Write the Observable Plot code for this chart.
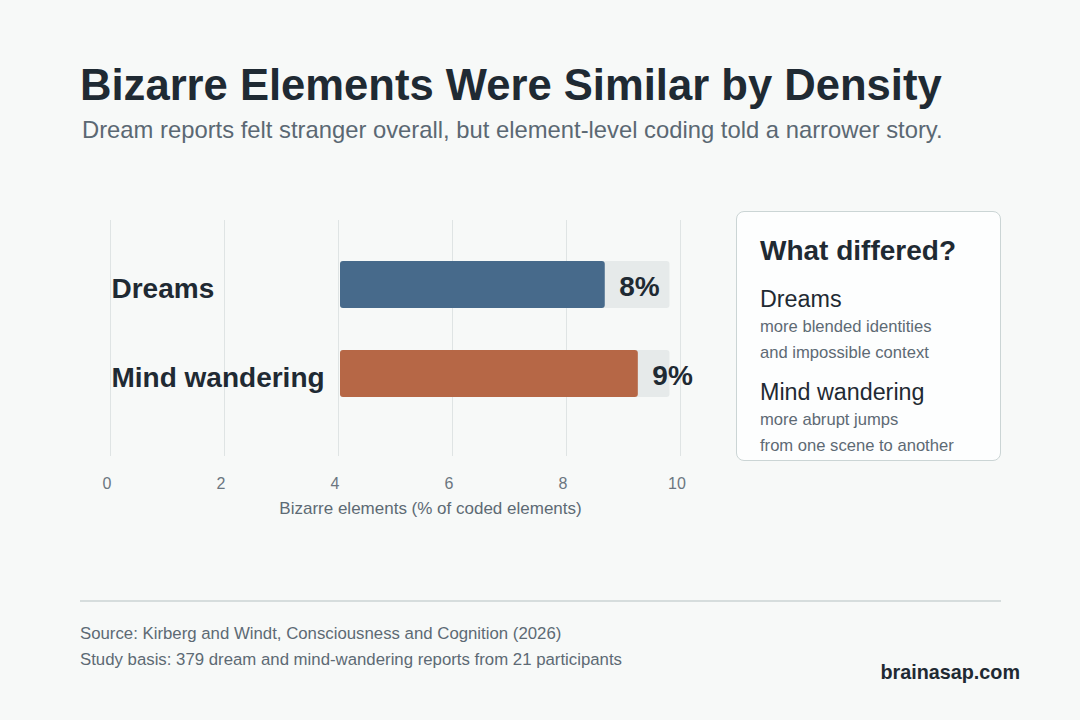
<!DOCTYPE html>
<html>
<head>
<meta charset="utf-8">
<script src="https://cdn.jsdelivr.net/npm/d3@7"></script>
<script src="https://cdn.jsdelivr.net/npm/@observablehq/plot@0.6"></script>
<style>
  html, body { margin: 0; padding: 0; }
  body { width: 1080px; height: 720px; background: #f7f9f8; position: relative; overflow: hidden;
         font-family: "Liberation Sans", Arial, sans-serif; color: #1f2a33; }
  .abs { position: absolute; white-space: nowrap; line-height: 1; }
  #title { left: 80px; top: 63.8px; font-size: 43.6px; font-weight: 700; color: #1f2a33; }
  #subtitle { left: 82px; top: 117.6px; font-size: 23.8px; color: #5b6873; }
  #chart { position: absolute; left: 0; top: 0; }
  #box { position: absolute; left: 736px; top: 210.5px; width: 265px; height: 250px;
         border: 1.5px solid #cbd5d5; border-radius: 8px; background: #fdfefe; box-sizing: border-box; }
  .bt { font-size: 28px; font-weight: 700; color: #1f2a33; }
  .bh { font-size: 23.3px; color: #1f2a33; }
  .bs { font-size: 16.6px; color: #5d6a74; }
  #rule { position: absolute; left: 80px; top: 600px; width: 921px; height: 2px; background: #d6dddd; }
  .foot { font-size: 16.8px; color: #5d6a74; }
  #brand { right: 60px; font-size: 19.8px; font-weight: 700; color: #1f2a33; }
</style>
</head>
<body>
<div id="title" class="abs">Bizarre Elements Were Similar by Density</div>
<div id="subtitle" class="abs">Dream reports felt stranger overall, but element-level coding told a narrower story.</div>
<div id="chart"></div>
<div id="box"></div>
<div id="boxtext"></div>
<div id="rule"></div>
<div class="abs foot" style="left:80px; top:625.8px;">Source: Kirberg and Windt, Consciousness and Cognition (2026)</div>
<div class="abs foot" style="left:80px; top:651.5px;">Study basis: 379 dream and mind-wandering reports from 21 participants</div>
<div id="brand" class="abs" style="top:662.5px;">brainasap.com</div>
<script>
// ---- data ----
const categories = ["Dreams", "Mind wandering"];
const values = [8.68, 9.26];            // bizarre elements, % of coded elements
const valueLabels = ["8%", "9%"];
const barColors = ["#476a8b", "#b66746"];
const barStart = 4;                      // bars drawn from 4 on the axis
const trackEnd = Math.max(...values) * 1.06;
const xTicks = [0, 2, 4, 6, 8, 10];
const xDomain = [0, 10];
const xLabel = "Bizarre elements (% of coded elements)";

const noteTitle = "What differed?";
const noteHeads = ["Dreams", "Mind wandering"];
const noteLines = [["more blended identities", "and impossible context"],
                   ["more abrupt jumps", "from one scene to another"]];

// ---- table ----
const rows = categories.map((c, i) => ({
  cat: c, value: values[i], label: valueLabels[i], color: barColors[i], start: barStart, track: trackEnd
}));

const chart = Plot.plot({
  width: 720,
  height: 560,
  marginLeft: 110,
  marginRight: 40,
  marginTop: 220,
  marginBottom: 104,
  style: { background: "transparent", fontFamily: "'Liberation Sans', Arial, sans-serif" },
  x: { domain: xDomain },
  y: { domain: categories, range: [218, 440], padding: 0.4667, axis: null },
  marks: [
    Plot.ruleX(xTicks, { stroke: "#dfe4e4", strokeWidth: 1 }),
    Plot.axisX(xTicks, { tickSize: 0, tickPadding: 21, dx: -3.5, fontSize: 16, fill: "#6b7680",
      tickFormat: d => String(d), label: null }),
    Plot.text([xLabel], { frameAnchor: "bottom", dy: 57, dx: 35, fontSize: 17, fill: "#5d6a74" }),
    Plot.barX(rows, { x1: "start", x2: "track", y: "cat", fill: "#e6eaea", rx: 3, insetLeft: 2 }),
    Plot.barX(rows, { x1: "start", x2: "value", y: "cat", fill: "color", rx: 3, insetLeft: 2 }),
    Plot.text(rows, { y: "cat", text: "cat", frameAnchor: "left", textAnchor: "start", dx: 1, dy: 4,
      fontSize: 28, fontWeight: 700, fill: "#1f2a33" }),
    Plot.text(rows, { x: "value", y: "cat", text: "label", textAnchor: "start", dx: 14, dy: 2,
      fontSize: 28, fontWeight: 700, fill: "#1f2a33" })
  ]
});
document.getElementById("chart").appendChild(chart);

// ---- note box text ----
const bt = document.getElementById("boxtext");
function add(cls, text, top) {
  const d = document.createElement("div");
  d.className = "abs " + cls; d.textContent = text;
  d.style.left = "760px"; d.style.top = top + "px";
  bt.appendChild(d);
}
add("bt", noteTitle, 236.5);
const headTops = [288, 380.5];
noteHeads.forEach((h, i) => {
  add("bh", h, headTops[i]);
  noteLines[i].forEach((l, j) => add("bs", l, headTops[i] + 31 + j * 26));
});
</script>
</body>
</html>
